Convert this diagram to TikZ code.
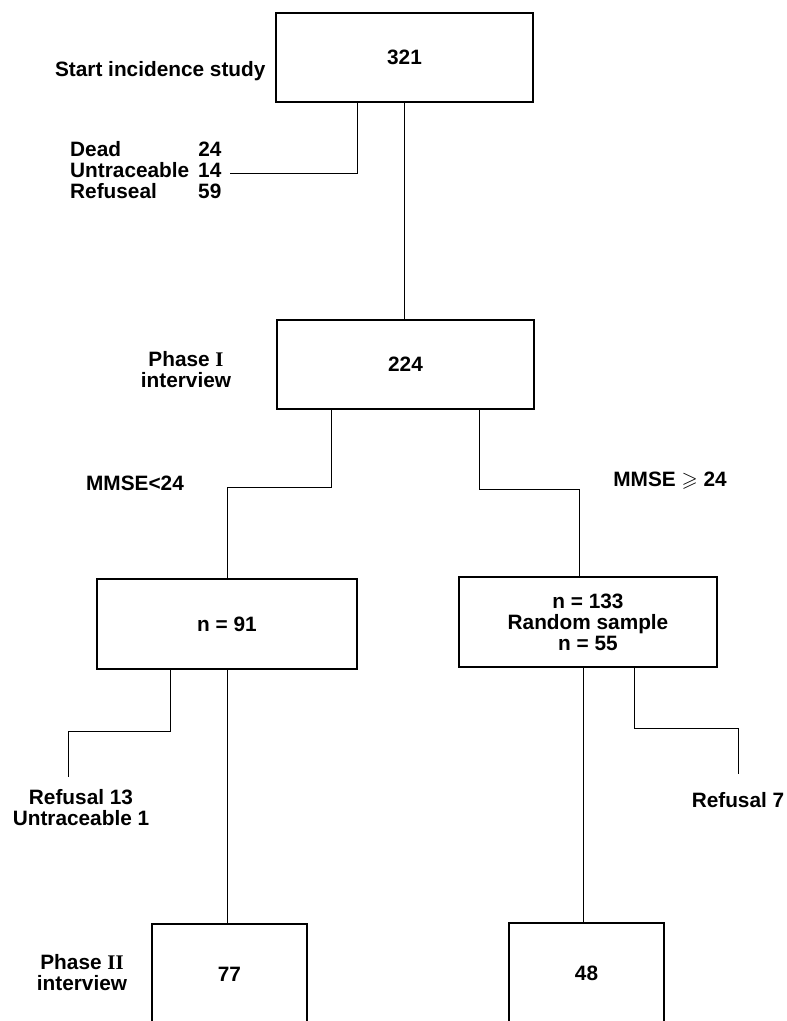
\documentclass[tikz,border=0pt]{standalone}
\usepackage{amssymb}
\usepackage{fontspec}
\setmainfont{Liberation Sans}
\newfontfamily\romfont{Liberation Serif}
\usepackage{tikz}

\begin{document}
\begin{tikzpicture}[x=1pt,y=-1pt,
    every node/.style={font=\bfseries\fontsize{20.8}{21}\selectfont, align=center},
    box/.style={draw=black, line width=1.8pt, minimum height=89pt, inner sep=0pt},
    link/.style={line width=1pt}]
    \useasboundingbox (0,0) rectangle (787,1021);
    \clip (0,0) rectangle (787,1021);
    % boxes
    \node[box, minimum width=257pt] (start) at (404.5,57.5) {321};
    \node[box, minimum width=257pt] (ph1) at (405.5,364.5) {224};
    \node[box, minimum width=260pt, minimum height=90pt] (low) at (227,624) {n = 91};
    \node[box, minimum width=258pt, minimum height=90pt] (high) at (588,622) {n = 133\\Random sample\\n = 55};
    \node[box, minimum width=155pt, minimum height=100pt, anchor=north] (ph2a) at (229.5,923) {77};
    \node[box, minimum width=155pt, minimum height=100pt, anchor=north] (ph2b) at (586.5,922) {48};
    % labels
    \node[anchor=base east] (startlbl) at (269,76) {Start incidence study};
    \node (ph1lbl) at (186,370) {Phase {\romfont I}\\interview};
    \node (ph2lbl) at (82,973) {Phase {\romfont II}\\interview};
    \node (mlow) at (135,483) {MMSE<24};
    \node (mhigh) at (670,481) {MMSE $\geqslant$ 24};
    \node[anchor=west, inner xsep=8pt, inner ysep=0pt] (lossA) at (62,173)
        {\renewcommand{\arraystretch}{0.93}%
         \begin{tabular}{@{}l@{\hspace{9pt}}l@{}}Dead & 24\\ Untraceable & 14\\ Refuseal & 59\end{tabular}};
    \node (lossB) at (81,808) {Refusal 13\\Untraceable 1};
    \node (lossC) at (738,800) {Refusal 7};
    \coordinate (endB) at (68,777);
    \coordinate (endC) at (738,774);
    % connectors
    \draw[link] ([xshift=82pt]start.south west) |- (lossA.east);
    \draw[link] (start.south) -- (start.south |- ph1.north);
    \draw[link] ([xshift=55pt]ph1.south west) -- ++(0,78) -| (low.north);
    \draw[link] ([xshift=203pt]ph1.south west) -- ++(0,80) -| ([xshift=121pt]high.north west);
    \draw[link] ([xshift=74pt]low.south west) -- ++(0,62) -| (endB);
    \draw[link] (low.south) -- (low.south |- ph2a.north);
    \draw[link] ([xshift=176pt]high.south west) -- ++(0,61) -| (endC);
    \path ([xshift=125pt]high.south west) coordinate (h1);
    \draw[link] (h1) -- (h1 |- ph2b.north);
\end{tikzpicture}
\end{document}
